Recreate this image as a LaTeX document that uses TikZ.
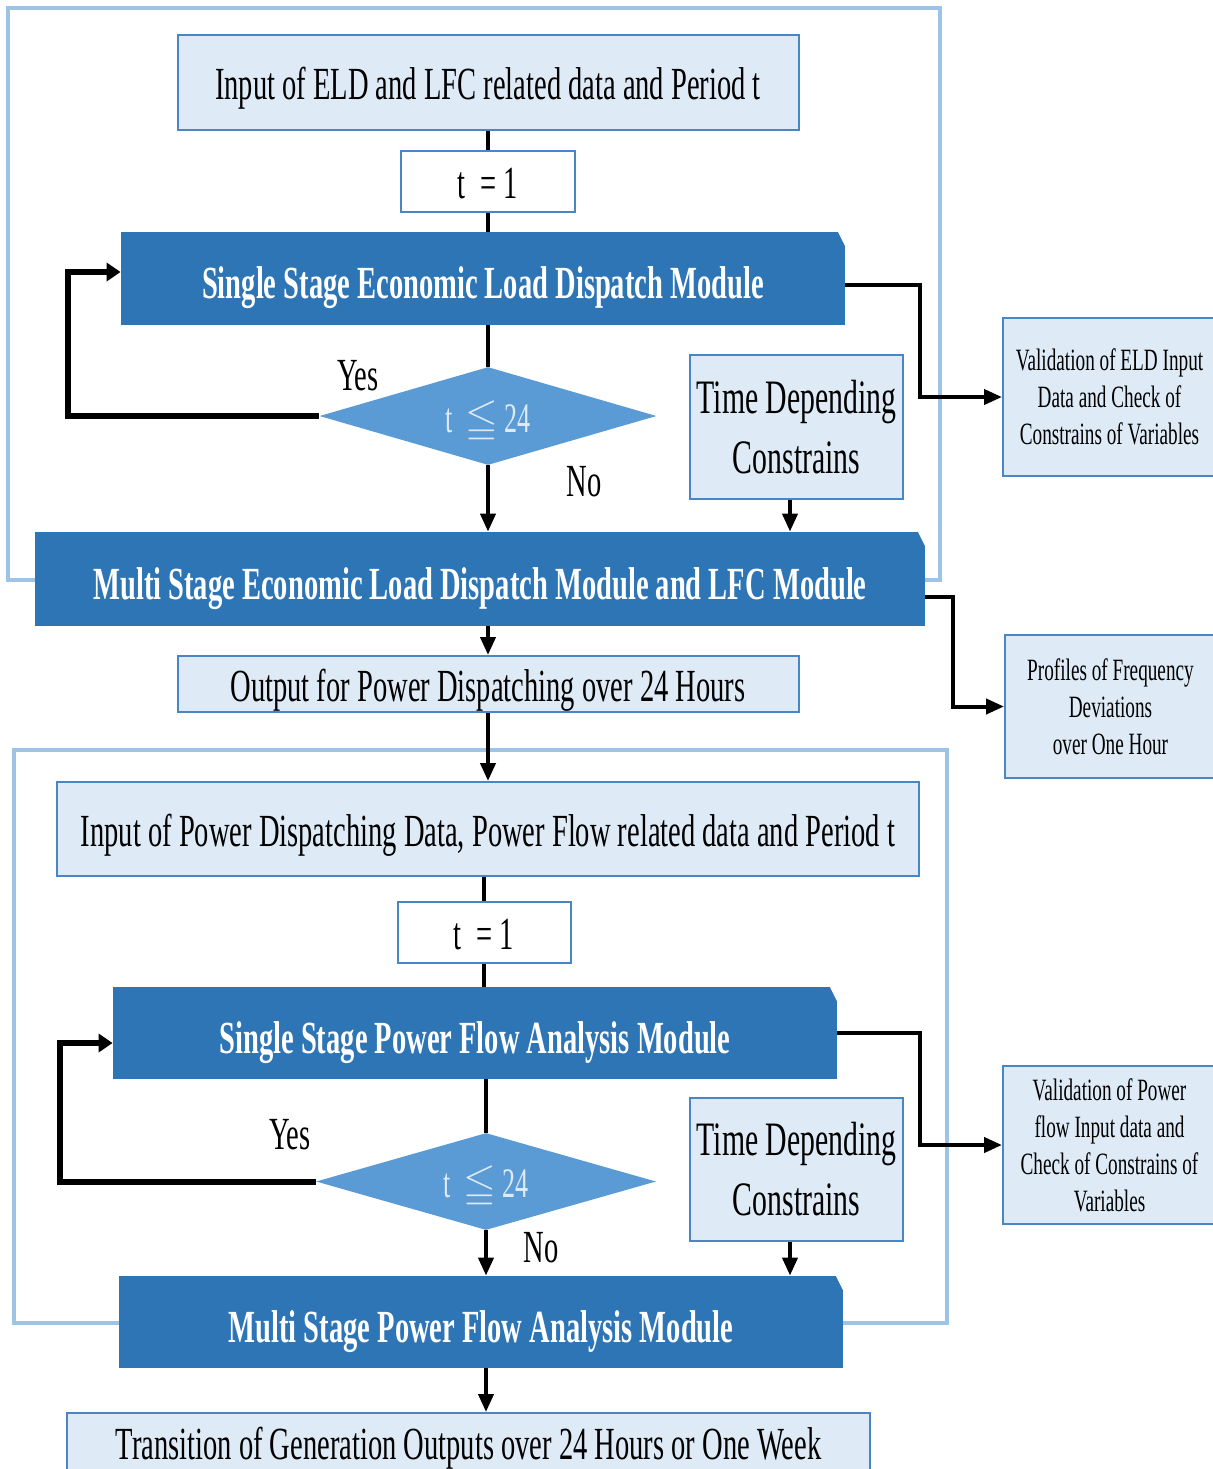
\documentclass[tikz,border=0pt]{standalone}
\usepackage{amssymb}
\usepackage{fontspec}
\setmainfont{Liberation Serif}[FakeStretch=0.62]
\usetikzlibrary{shapes.geometric,arrows.meta}
\definecolor{frameblue}{HTML}{9DC3E6}
\definecolor{lightfill}{HTML}{DEEBF7}
\definecolor{edgeblue}{HTML}{4A86C5}
\definecolor{darkfill}{HTML}{2E75B6}
\definecolor{diafill}{HTML}{5B9BD5}
\tikzset{
  frame/.style={draw=frameblue, line width=2.2pt},
  lightbox/.style={draw=edgeblue, line width=1pt, fill=lightfill, inner sep=0pt, align=center, font=\fontsize{23}{27}\selectfont},
  oneline/.style={text height=22pt, text depth=5pt},
  whitebox/.style={lightbox, oneline, fill=white},
  sidebox/.style={lightbox, font=\fontsize{15.5}{18.5}\selectfont},
  tdbox/.style={lightbox, font=\fontsize{24}{28}\selectfont},
  darkbox/.style={fill=darkfill, inner sep=0pt, text=white, text height=25pt, text depth=5pt, font=\bfseries\fontsize{23}{27}\selectfont,
    path picture={\fill[white] ([xshift=-3.5pt]path picture bounding box.north east) -- ([xshift=1pt,yshift=1pt]path picture bounding box.north east) -- ([yshift=-7pt]path picture bounding box.north east) -- cycle;}},
  decision/.style={diamond, fill=diafill, inner sep=0pt, minimum width=168.5pt, minimum height=49pt, aspect=3.4, text=lightfill, text height=20pt, text depth=4pt, font=\fontsize{21}{24}\selectfont},
  lbl/.style={inner sep=0pt, font=\fontsize{23}{27}\selectfont},
  line/.style={draw=black, line width=2pt},
  arr/.style={line, -{Triangle[length=9pt,width=7.5pt]}},
  looparr/.style={draw=black, line width=3pt, -{Triangle[length=7pt,width=9pt]}}
}
\begin{document}
\begin{tikzpicture}[x=0.5pt,y=-0.5pt]
\useasboundingbox (0,0) rectangle (1212,1469);
% frames
\draw[frame] (8,8) rectangle (940,580);
\draw[frame] (14,750) rectangle (947,1323);
% upper part
\node[lightbox, oneline, minimum width=310.5pt, minimum height=47.5pt] (in1) at (488,82.5) {Input of ELD and LFC related data and Period t};
\node[whitebox, minimum width=87pt, minimum height=30.5pt] (t1) at (488,181.5) {t \,= 1};
\node[darkbox, minimum width=362pt, minimum height=46.5pt] (ss1) at (483,278.5) {Single Stage Economic Load Dispatch Module};
\node[decision] (d1) at (488,416) {t \ $\leqq$ 24};
\node[lbl] (yes1) at (358,376) {Yes};
\node[lbl] (no1) at (584,482) {No};
\node[tdbox, minimum width=106.5pt, minimum height=72pt] (tdc1) at (796.5,427) {Time Depending\\[2pt]Constrains};
\node[darkbox, minimum width=445pt, minimum height=47pt] (ms1) at (480,579) {Multi Stage Economic Load Dispatch Module and LFC Module};
\node[sidebox, minimum width=106.5pt, minimum height=79pt] (v1) at (1109.5,397) {Validation of ELD Input\\Data and Check of\\Constrains of Variables};
\node[sidebox, minimum width=105.5pt, minimum height=71.5pt] (pf1) at (1110.5,706.5) {Profiles of Frequency\\Deviations\\over One Hour};
\node[lightbox, oneline, minimum width=310.5pt, minimum height=28pt] (out1) at (488,684) {Output for Power Dispatching over 24 Hours};
% lower part
\node[lightbox, oneline, minimum width=431pt, minimum height=47pt] (in2) at (488,829) {Input of Power Dispatching Data, Power Flow related data and Period t};
\node[whitebox, minimum width=86.5pt, minimum height=30.5pt] (t2) at (484,932.5) {t \,= 1};
\node[darkbox, minimum width=362pt, minimum height=46pt] (ss2) at (475,1033) {Single Stage Power Flow Analysis Module};
\node[decision, minimum width=170pt, minimum height=48.5pt] (d2) at (486,1181.5) {t \ $\leqq$ 24};
\node[lbl] (yes2) at (290,1135) {Yes};
\node[lbl] (no2) at (541,1248) {No};
\node[tdbox, minimum width=106.5pt, minimum height=71.5pt] (tdc2) at (796.5,1169.5) {Time Depending\\[2pt]Constrains};
\node[darkbox, minimum width=362pt, minimum height=46pt] (ms2) at (481,1322) {Multi Stage Power Flow Analysis Module};
\node[sidebox, minimum width=106.5pt, minimum height=79pt] (v2) at (1109.5,1145) {Validation of Power\\flow Input data and\\Check of Constrains of\\Variables};
\node[lightbox, oneline, minimum width=401.5pt, minimum height=29.5pt] (tr) at (468.5,1442.5) {Transition of Generation Outputs over 24 Hours or One Week};
% helper coordinates
\coordinate (l1) at (68,272);
\coordinate (l2) at (60,1043);
\coordinate (c1) at ([xshift=-3.25pt]tdc1.south);
\coordinate (c2) at ([xshift=-3.25pt]tdc2.south);
% connectors upper
\draw[line] (in1) -- (t1);
\draw[line] (t1.south) -- (t1.south |- ss1.north);
\draw[line] (t1.south |- ss1.south) -- (d1.north);
\draw[arr] (d1.south) -- (d1.south |- ms1.north);
\draw[looparr] (d1.west) -| (l1) -- (l1 -| ss1.west);
\draw[arr] (c1) -- (c1 |- ms1.north);
\draw[arr] ([yshift=-3pt]ss1.east) -- ++(75,0) |- (v1.west);
\draw[arr] ([yshift=-9pt]ms1.east) -- ++(28,0) |- (pf1.west);
\draw[arr] (ms1.south -| out1.north) -- (out1.north);
\draw[arr] (out1.south) -- (in2.north);
% connectors lower
\draw[line] (in2.south -| t2.north) -- (t2.north);
\draw[line] (t2.south) -- (t2.south |- ss2.north);
\draw[line] (d2.north |- ss2.south) -- (d2.north);
\draw[arr] (d2.south) -- (d2.south |- ms2.north);
\draw[looparr] (d2.west) -| (l2) -- (l2 -| ss2.west);
\draw[arr] (c2) -- (c2 |- ms2.north);
\draw[arr] (ss2.east) -- ++(83,0) |- (v2.west);
\draw[arr] (d2.south |- ms2.south) -- (d2.south |- tr.north);
\end{tikzpicture}
\end{document}
